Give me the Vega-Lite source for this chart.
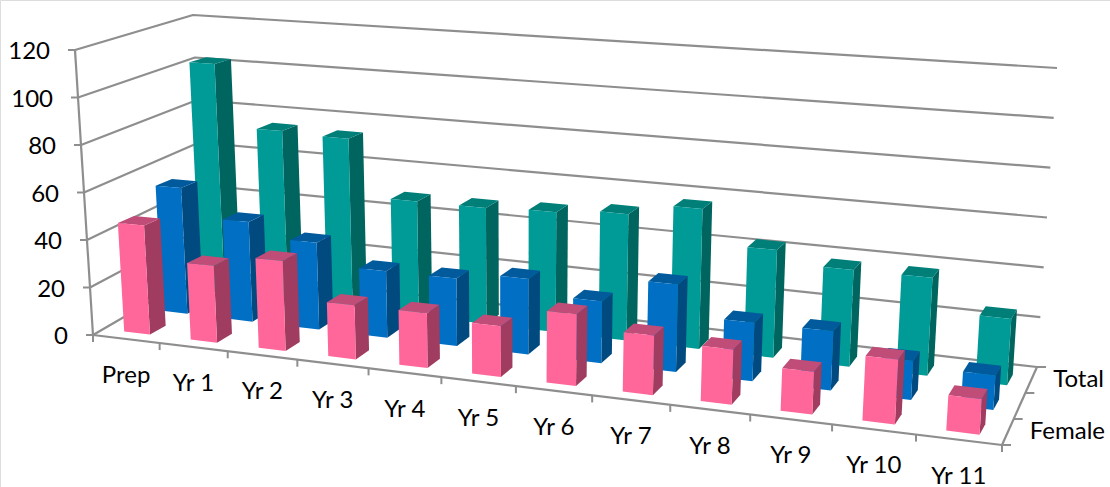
{
"$schema":"https://vega.github.io/schema/vega-lite/v6.json",
"width":1110,"height":487,"padding":0,"autosize":{"type":"none"},
"background":"white",
"datasets":{
"bars":[
{"year":"Prep","series":"Total","value":104},{"year":"Yr 1","series":"Total","value":76},{"year":"Yr 2","series":"Total","value":75},{"year":"Yr 3","series":"Total","value":50},{"year":"Yr 4","series":"Total","value":50},{"year":"Yr 5","series":"Total","value":51},{"year":"Yr 6","series":"Total","value":53},{"year":"Yr 7","series":"Total","value":58},{"year":"Yr 8","series":"Total","value":44},{"year":"Yr 9","series":"Total","value":39},{"year":"Yr 10","series":"Total","value":39},{"year":"Yr 11","series":"Total","value":26},
{"year":"Prep","series":"Male","value":55},{"year":"Yr 1","series":"Male","value":43},{"year":"Yr 2","series":"Male","value":37},{"year":"Yr 3","series":"Male","value":28},{"year":"Yr 4","series":"Male","value":28},{"year":"Yr 5","series":"Male","value":31},{"year":"Yr 6","series":"Male","value":25},{"year":"Yr 7","series":"Male","value":35},{"year":"Yr 8","series":"Male","value":23},{"year":"Yr 9","series":"Male","value":23},{"year":"Yr 10","series":"Male","value":15},{"year":"Yr 11","series":"Male","value":13},
{"year":"Prep","series":"Female","value":46},{"year":"Yr 1","series":"Female","value":32},{"year":"Yr 2","series":"Female","value":37},{"year":"Yr 3","series":"Female","value":22},{"year":"Yr 4","series":"Female","value":22},{"year":"Yr 5","series":"Female","value":20},{"year":"Yr 6","series":"Female","value":28},{"year":"Yr 7","series":"Female","value":23},{"year":"Yr 8","series":"Female","value":21},{"year":"Yr 9","series":"Female","value":16},{"year":"Yr 10","series":"Female","value":24},{"year":"Yr 11","series":"Female","value":13}
],
"levels":[{"level":0},{"level":20},{"level":40},{"level":60},{"level":80},{"level":100},{"level":120}],
"axes":[{"axis":"value"},{"axis":"category"},{"axis":"depth"}],
"ticks":[
{"kind":"value","at":0},{"kind":"value","at":20},{"kind":"value","at":40},{"kind":"value","at":60},{"kind":"value","at":80},{"kind":"value","at":100},{"kind":"value","at":120},
{"kind":"category","at":0},{"kind":"category","at":1},{"kind":"category","at":2},{"kind":"category","at":3},{"kind":"category","at":4},{"kind":"category","at":5},{"kind":"category","at":6},{"kind":"category","at":7},{"kind":"category","at":8},{"kind":"category","at":9},{"kind":"category","at":10},{"kind":"category","at":11},{"kind":"category","at":12},
{"kind":"depth","at":0},{"kind":"depth","at":1},{"kind":"depth","at":2},{"kind":"depth","at":3}
],
"cats":[{"year":"Prep","i":0},{"year":"Yr 1","i":1},{"year":"Yr 2","i":2},{"year":"Yr 3","i":3},{"year":"Yr 4","i":4},{"year":"Yr 5","i":5},{"year":"Yr 6","i":6},{"year":"Yr 7","i":7},{"year":"Yr 8","i":8},{"year":"Yr 9","i":9},{"year":"Yr 10","i":10},{"year":"Yr 11","i":11}],
"depths":[{"series":"Female","v":0.5},{"series":"Total","v":2.5}]
},
"layer":[
{"data":{"name":"levels"},
 "transform":[
  {"calculate":"[0,1,2]","as":"c"},{"flatten":["c"]},
  {"calculate":"datum.c==2?12:0","as":"u"},{"calculate":"datum.c==0?0:3","as":"v"},{"calculate":"datum.level","as":"h"},
  {"calculate":"(datum.u/12*0.87)/(1-datum.u/12+datum.u/12*0.87)","as":"tu"},{"calculate":"datum.v/3","as":"tv"},{"calculate":"datum.h/120","as":"th"},
  {"calculate":"(1-datum.th)*(93*(1-datum.tu)*(1-datum.tv)+1002*datum.tu*(1-datum.tv)+205*(1-datum.tu)*datum.tv+1037*datum.tu*datum.tv)+datum.th*(75*(1-datum.tu)*(1-datum.tv)+1024*datum.tu*(1-datum.tv)+193*(1-datum.tu)*datum.tv+1057*datum.tu*datum.tv)","as":"px"},
  {"calculate":"(1-datum.th)*(335*(1-datum.tu)*(1-datum.tv)+445*datum.tu*(1-datum.tv)+270*(1-datum.tu)*datum.tv+367*datum.tu*datum.tv)+datum.th*(50*(1-datum.tu)*(1-datum.tv)+111*datum.tu*(1-datum.tv)+15*(1-datum.tu)*datum.tv+68*datum.tu*datum.tv)","as":"py"}
 ],
 "mark":{"type":"line","stroke":"#8e8e8e","strokeWidth":2.2,"strokeJoin":"round"},
 "encoding":{
  "x":{"field":"px","type":"quantitative","scale":{"domain":[0,1110],"nice":false,"zero":false},"axis":null},
  "y":{"field":"py","type":"quantitative","scale":{"domain":[487,0],"nice":false,"zero":false},"axis":null},
  "detail":{"field":"level"},"order":{"field":"c"}}
},
{"data":{"name":"axes"},
 "transform":[
  {"calculate":"[0,1]","as":"c"},{"flatten":["c"]},
  {"calculate":"datum.axis=='category'?datum.c*12:(datum.axis=='depth'?12:0)","as":"u"},{"calculate":"datum.axis=='depth'?datum.c*3:0","as":"v"},{"calculate":"datum.axis=='value'?datum.c*120:0","as":"h"},
  {"calculate":"(datum.u/12*0.87)/(1-datum.u/12+datum.u/12*0.87)","as":"tu"},{"calculate":"datum.v/3","as":"tv"},{"calculate":"datum.h/120","as":"th"},
  {"calculate":"(1-datum.th)*(93*(1-datum.tu)*(1-datum.tv)+1002*datum.tu*(1-datum.tv)+205*(1-datum.tu)*datum.tv+1037*datum.tu*datum.tv)+datum.th*(75*(1-datum.tu)*(1-datum.tv)+1024*datum.tu*(1-datum.tv)+193*(1-datum.tu)*datum.tv+1057*datum.tu*datum.tv)","as":"px"},
  {"calculate":"(1-datum.th)*(335*(1-datum.tu)*(1-datum.tv)+445*datum.tu*(1-datum.tv)+270*(1-datum.tu)*datum.tv+367*datum.tu*datum.tv)+datum.th*(50*(1-datum.tu)*(1-datum.tv)+111*datum.tu*(1-datum.tv)+15*(1-datum.tu)*datum.tv+68*datum.tu*datum.tv)","as":"py"}
 ],
 "mark":{"type":"line","stroke":"#8e8e8e","strokeWidth":2.2},
 "encoding":{
  "x":{"field":"px","type":"quantitative"},
  "y":{"field":"py","type":"quantitative"},
  "detail":{"field":"axis"},"order":{"field":"c"}}
},
{"data":{"name":"ticks"},
 "transform":[
  {"calculate":"datum.kind=='category'?datum.at:(datum.kind=='depth'?12:0)","as":"u"},{"calculate":"datum.kind=='depth'?datum.at:0","as":"v"},{"calculate":"datum.kind=='value'?datum.at:0","as":"h"},
  {"calculate":"(datum.u/12*0.87)/(1-datum.u/12+datum.u/12*0.87)","as":"tu"},{"calculate":"datum.v/3","as":"tv"},{"calculate":"datum.h/120","as":"th"},
  {"calculate":"(1-datum.th)*(93*(1-datum.tu)*(1-datum.tv)+1002*datum.tu*(1-datum.tv)+205*(1-datum.tu)*datum.tv+1037*datum.tu*datum.tv)+datum.th*(75*(1-datum.tu)*(1-datum.tv)+1024*datum.tu*(1-datum.tv)+193*(1-datum.tu)*datum.tv+1057*datum.tu*datum.tv)","as":"px"},
  {"calculate":"(1-datum.th)*(335*(1-datum.tu)*(1-datum.tv)+445*datum.tu*(1-datum.tv)+270*(1-datum.tu)*datum.tv+367*datum.tu*datum.tv)+datum.th*(50*(1-datum.tu)*(1-datum.tv)+111*datum.tu*(1-datum.tv)+15*(1-datum.tu)*datum.tv+68*datum.tu*datum.tv)","as":"py"},
  {"calculate":"datum.kind=='value'?datum.px-7:(datum.kind=='depth'?datum.px+9:datum.px)","as":"px2"},
  {"calculate":"datum.kind=='category'?datum.py+7:datum.py","as":"py2"}
 ],
 "mark":{"type":"rule","stroke":"#8e8e8e","strokeWidth":2},
 "encoding":{
  "x":{"field":"px","type":"quantitative"},"y":{"field":"py","type":"quantitative"},
  "x2":{"field":"px2"},"y2":{"field":"py2"}}
},
{"data":{"name":"bars"},
 "transform":[
  {"calculate":"indexof(['Prep','Yr 1','Yr 2','Yr 3','Yr 4','Yr 5','Yr 6','Yr 7','Yr 8','Yr 9','Yr 10','Yr 11'],datum.year)","as":"i"},
  {"calculate":"indexof(['Female','Male','Total'],datum.series)","as":"s"},
  {"calculate":"['side','top','front']","as":"face"},{"flatten":["face"]},
  {"calculate":"[0,1,2,3]","as":"c"},{"flatten":["c"]},
  {"calculate":"datum.series+'-'+datum.face","as":"tone"},
  {"calculate":"datum.year+datum.series+datum.face","as":"key"},
  {"calculate":"datum.i+0.5+((datum.face=='side'||datum.c==1||datum.c==2)?0.195:-0.195)","as":"u"},
  {"calculate":"datum.s+0.5+(datum.face=='side'?((datum.c==1||datum.c==2)?0.21:-0.21):(datum.face=='top'?(datum.c>=2?0.21:-0.21):-0.21))","as":"v"},
  {"calculate":"datum.face=='top'||datum.c>=2?datum.value:0","as":"h"},
  {"calculate":"(datum.u/12*0.87)/(1-datum.u/12+datum.u/12*0.87)","as":"tu"},{"calculate":"datum.v/3","as":"tv"},{"calculate":"datum.h/120","as":"th"},
  {"calculate":"4*datum.tv+(1-datum.th)*(93*(1-datum.tu)*(1-datum.tv)+1002*datum.tu*(1-datum.tv)+205*(1-datum.tu)*datum.tv+1037*datum.tu*datum.tv)+datum.th*(75*(1-datum.tu)*(1-datum.tv)+1024*datum.tu*(1-datum.tv)+193*(1-datum.tu)*datum.tv+1057*datum.tu*datum.tv)","as":"px"},
  {"calculate":"3.5*datum.tv+(1-datum.th)*(335*(1-datum.tu)*(1-datum.tv)+445*datum.tu*(1-datum.tv)+270*(1-datum.tu)*datum.tv+367*datum.tu*datum.tv)+datum.th*(50*(1-datum.tu)*(1-datum.tv)+111*datum.tu*(1-datum.tv)+15*(1-datum.tu)*datum.tv+68*datum.tu*datum.tv)","as":"py"}
 ],
 "mark":{"type":"line","filled":true,"strokeWidth":0},
 "encoding":{
  "x":{"field":"px","type":"quantitative"},"y":{"field":"py","type":"quantitative"},
  "detail":{"field":"key"},"order":{"field":"c"},
  "color":{"field":"tone","type":"nominal","legend":null,"scale":{
   "domain":["Total-front","Total-side","Total-top","Male-front","Male-side","Male-top","Female-front","Female-side","Female-top"],
   "range":["#009B96","#00645F","#007F79","#006FC4","#004A80","#005A9B","#FF6699","#A03C60","#C04C78"]}}}
},
{"data":{"name":"levels"},
 "transform":[
  {"calculate":"datum.level/120","as":"th"},
  {"calculate":"93+(75-93)*datum.th","as":"px"},
  {"calculate":"335+(50-335)*datum.th","as":"py"}
 ],
 "mark":{"type":"text","font":"Lato","fontSize":24,"align":"right","baseline":"middle","dx":-25,"dy":2,"color":"#000000"},
 "encoding":{"x":{"field":"px","type":"quantitative"},"y":{"field":"py","type":"quantitative"},"text":{"field":"level","type":"nominal"}}
},
{"data":{"name":"cats"},
 "transform":[
  {"calculate":"datum.i+0.5","as":"u"},
  {"calculate":"(datum.u/12*0.87)/(1-datum.u/12+datum.u/12*0.87)","as":"tu"},
  {"calculate":"93+(1002-93)*datum.tu","as":"px"},
  {"calculate":"335+(445-335)*datum.tu","as":"py"}
 ],
 "mark":{"type":"text","font":"Lato","fontSize":24,"align":"center","baseline":"middle","dy":37,"color":"#000000"},
 "encoding":{"x":{"field":"px","type":"quantitative"},"y":{"field":"py","type":"quantitative"},"text":{"field":"year","type":"nominal"}}
},
{"data":{"name":"depths"},
 "transform":[
  {"calculate":"datum.v/3","as":"tv"},
  {"calculate":"1002+(1037-1002)*datum.tv","as":"px"},
  {"calculate":"445+(367-445)*datum.tv","as":"py"}
 ],
 "mark":{"type":"text","font":"Lato","fontSize":24,"align":"left","baseline":"middle","dx":22,"dy":0,"color":"#000000"},
 "encoding":{"x":{"field":"px","type":"quantitative"},"y":{"field":"py","type":"quantitative"},"text":{"field":"series","type":"nominal"}}
}
]
}
